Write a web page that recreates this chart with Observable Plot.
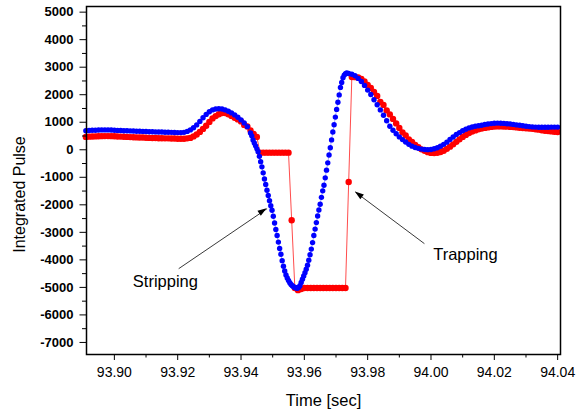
<!DOCTYPE html>
<html>
<head>
<meta charset="utf-8">
<script src="https://cdn.jsdelivr.net/npm/d3@7"></script>
<script src="https://cdn.jsdelivr.net/npm/@observablehq/plot@0.6"></script>
<style>
  html, body { margin: 0; padding: 0; background: #fff; }
  #chart svg { display: block; }
</style>
</head>
<body>
<div id="chart"></div>
<script>
// ---- Blue series (three sampled stretches: start time, step, values) ----
const blueLeftStart = 93.891, blueLeftStep = 0.001;
const blueLeft = [693,701,708,711,719,722,722,722,719,711,704,701,693,690,686,682,675,672,668,661,
  657,653,650,646,643,639,635,632,628,624,624,632,668,722,802,904,1031,1165,1285,1383,
  1448,1481,1492,1481,1448,1401,1339,1267,1180,1085,976,839,613];

const blueMidStart = 93.9434, blueMidStep = 0.0004;
const blueMid = [505,359,250,142,33,-69,-240,-432,-621,-839,
  -1060,-1263,-1470,-1663,-1848,-2033,-2200,-2418,-2661,-2897,
  -3115,-3354,-3586,-3797,-4029,-4233,-4403,-4548,-4661,-4748,
  -4832,-4893,-4937,-4977,-5006,-5020,-5031,-5006,-4941,-4821,
  -4704,-4588,-4469,-4341,-4196,-4015,-3815,-3608,-3372,-3115,
  -2882,-2646,-2407,-2189,-1982,-1728,-1492,-1289,-1020,-741,
  -476,-189,76,359,643,911,1187,1467,1728,1993,
  2265,2447,2617,2712,2766,2788];

const blueRightStart = 93.974, blueRightStep = 0.001;
const blueRight = [2773,2744,2690,2592,2479,2338,2167,2007,1819,1634,
  1448,1256,1056,857,711,584,468,370,280,196,
  131,80,51,25,11,4,11,36,76,127,
  196,276,374,465,552,624,690,748,795,828,
  857,875,893,918,937,951,962,969,966,958,
  947,937,922,904,889,871,857,842,831,824,
  820,820,820,820,824,824,824];

// ---- Red series ----
const redStart = 93.891, redStep = 0.001;
const redValues = [468,476,483,486,490,494,497,497,494,490,
  483,479,472,468,461,457,450,446,443,439,
  432,428,425,421,417,414,414,410,407,403,
  403,403,414,432,486,552,650,759,875,1013,
  1140,1223,1292,1336,1332,1292,1231,1165,1104,1031,
  904,849,704,577,468,-105,-105,-105,-105,-105,
  -105,-105,-105,-105,-105,-2563,-5020,-5100,-5060,-5020,
  -5020,-5020,-5020,-5020,-5020,-5020,-5020,-5020,-5020,-5020,
  -5020,-5020,-5020,-1172,2640,2639,2628,2574,2483,2356,
  2247,2102,1957,1739,1630,1430,1285,1122,958,795,
  632,523,378,287,178,94,15,-40,-87,-113,
  -120,-109,-83,-33,33,113,196,287,378,468,
  541,606,661,704,741,770,795,813,831,842,
  849,849,846,839,831,824,813,802,791,780,
  770,762,748,730,711,693,679,668,657,643];

// ---- Axes ----
const xTicks = [93.90, 93.92, 93.94, 93.96, 93.98, 94.00, 94.02, 94.04];
const xMinor = [93.91, 93.93, 93.95, 93.97, 93.99, 94.01, 94.03];
const yTicks = [-7000, -6000, -5000, -4000, -3000, -2000, -1000, 0, 1000, 2000, 3000, 4000, 5000];
const yMinor = [-6500, -5500, -4500, -3500, -2500, -1500, -500, 500, 1500, 2500, 3500, 4500];
const xTitle = "Time [sec]";
const yTitle = "Integrated Pulse";

// ---- Annotations ----
const noteText = ["Stripping", "Trapping"];
const noteX = [93.91611, 94.01087];
const noteY = [-4796, -3826];
const arrowX1 = [93.92031, 93.99792];
const arrowY1 = [-4320, -3411];
const arrowX2 = [93.94823, 93.97612];
const arrowY2 = [-2140, -1537];

// ---- Build tables ----
const stretch = (t0, dt, vals) => vals.map((v, i) => ({t: t0 + i * dt, v}));
const blue = [
  ...stretch(blueLeftStart, blueLeftStep, blueLeft),
  ...stretch(blueMidStart, blueMidStep, blueMid),
  ...stretch(blueRightStart, blueRightStep, blueRight)
];
const red = stretch(redStart, redStep, redValues);
const notes = noteText.map((text, i) => ({text, x: noteX[i], y: noteY[i]}));
const arrows = arrowX1.map((x1, i) => ({x1, y1: arrowY1[i], x2: arrowX2[i], y2: arrowY2[i]}));

const arrowHeads = (index, scales) => {
  const ns = "http://www.w3.org/2000/svg";
  const g = document.createElementNS(ns, "g");
  for (const a of arrows) {
    const x1 = scales.x(a.x1), y1 = scales.y(a.y1), x2 = scales.x(a.x2), y2 = scales.y(a.y2);
    const ang = Math.atan2(y2 - y1, x2 - x1);
    const L = 9, W = 3;
    const bx = x2 - L * Math.cos(ang), by = y2 - L * Math.sin(ang);
    const px = -Math.sin(ang) * W, py = Math.cos(ang) * W;
    const p = document.createElementNS(ns, "path");
    p.setAttribute("d", `M${x2},${y2}L${bx + px},${by + py}L${bx - px},${by - py}Z`);
    p.setAttribute("fill", "#000");
    g.appendChild(p);
  }
  return g;
};

const font = "'Liberation Sans', Arial, Helvetica, sans-serif";

const chart = Plot.plot({
  width: 586,
  height: 411,
  marginLeft: 86,
  marginRight: 26,
  marginTop: 6,
  marginBottom: 57,
  style: {fontFamily: font, fontSize: "13px", color: "#000", background: "#fff"},
  x: {domain: [93.8912, 94.0409]},
  y: {domain: [-7438, 5205]},
  marks: [
    Plot.line(red, {x: "t", y: "v", stroke: "#ff0000", strokeWidth: 1, strokeOpacity: 0.7}),
    Plot.dot(red, {x: "t", y: "v", r: 3.2, fill: "#ff0000", stroke: "none"}),
    Plot.line(blue, {x: "t", y: "v", stroke: "#0000ff", strokeWidth: 0.7, strokeOpacity: 0.5}),
    Plot.dot(blue, {x: "t", y: "v", r: 2.7, fill: "#0000ff", stroke: "none"}),
    Plot.link(arrows, {x1: "x1", y1: "y1", x2: "x2", y2: "y2", stroke: "#222", strokeWidth: 0.9}),
    arrowHeads,
    Plot.text(notes, {x: "x", y: "y", text: "text", fontSize: 16.5, textAnchor: "middle", lineAnchor: "middle", fill: "#000"}),
    Plot.frame({stroke: "#000", strokeWidth: 1.5}),
    Plot.axisY(yTicks, {tickSize: 6.5, tickPadding: 6.5, tickFormat: d => String(d), fontWeight: "bold", fontSize: 13, label: null}),
    Plot.axisY(yMinor, {tickSize: 4, fill: "none", label: null}),
    Plot.axisX(xTicks, {tickSize: 6, tickPadding: 7, tickFormat: d3.format(".2f"), fontSize: 14, label: null}),
    Plot.axisX(xMinor, {tickSize: 3.5, fill: "none", label: null}),
    Plot.text([xTitle], {frameAnchor: "bottom", dy: 46, text: d => d, fontSize: 16.5, lineAnchor: "middle", textAnchor: "middle"}),
    Plot.text([yTitle], {frameAnchor: "left", dx: -67, dy: 14, rotate: -90, text: d => d, fontSize: 16, lineAnchor: "middle", textAnchor: "middle"})
  ]
});
document.getElementById("chart").appendChild(chart);
</script>
</body>
</html>
